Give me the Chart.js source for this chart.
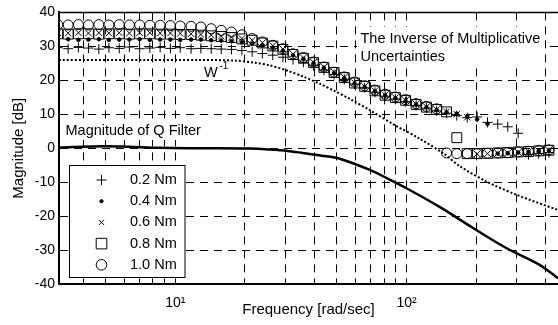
<!DOCTYPE html>
<html>
<head>
<meta charset="utf-8">
<script src="https://cdn.jsdelivr.net/npm/chart.js@4.4.1/dist/chart.umd.min.js"></script>
<style>
  html, body { margin: 0; padding: 0; background: #fff; }
  canvas { display: block; }
</style>
</head>
<body>
<canvas id="bode" width="558" height="325"></canvas>
<script>
// measured frequencies [rad/sec]
var freq = [3.10, 3.44, 3.81, 4.21, 4.67, 5.16, 5.72, 6.33, 7.01, 7.76,
  8.60, 9.52, 10.5, 11.7, 12.9, 14.3, 15.8, 17.5, 19.4, 21.5,
  23.8, 26.4, 29.2, 32.3, 35.8, 39.6, 43.9, 48.6, 53.8, 59.6,
  65.9, 73.0, 80.8, 89.5, 99.1, 110, 122, 135, 149, 165,
  183, 202, 224, 248, 274, 304, 337, 373, 413];

// inverse multiplicative uncertainty [dB] per load torque
var nm02 = [29.6, 29.3, 29.7, 29.5, 29.2, 29.6, 29.4, 29.8, 29.3, 29.5,
  29.7, 29.4, 29.6, 29.3, 29.4, 29.3, 29.2, 29.1, 28.8, 28.4,
  27.9, 27.4, 26.8, 26.1, 25.3, 24.3, 23.0, 21.7, 20.3, 18.9,
  17.8, 16.5, 15.3, 14.5, 13.7, 12.6, 11.8, 11.0, 10.3, 9.6,
  9.0, 9.2, 7.6, 7.1, 6.3, 4.4, -1.9, -1.6, -1.3];
var nm04 = [32.0, 32.1, 31.9, 32.0, 32.1, 31.9, 32.0, 32.0, 32.1, 31.9,
  32.0, 32.0, 31.9, 32.0, 32.0, 31.8, 31.7, 31.5, 31.2, 30.8,
  30.3, 29.6, 28.7, 27.4, 26.3, 25.0, 23.6, 22.1, 20.6, 19.0,
  18.0, 16.7, 15.5, 14.7, 13.9, 12.8, 12.0, 11.2, 10.5, 10.1,
  9.3, 8.5, 7.2, -1.6, -1.5, -1.3, -1.1, -0.9, -0.7];
var nm06 = [34.0, 33.9, 34.0, 33.9, 34.0, 33.9, 34.0, 33.9, 34.0, 34.0,
  33.9, 33.9, 33.8, 33.7, 33.5, 33.3, 33.0, 32.7, 32.3, 31.8,
  31.1, 30.2, 29.2, 27.7, 26.6, 25.3, 23.9, 22.4, 20.9, 19.3,
  18.2, 16.9, 15.7, 14.9, 14.1, 13.0, 12.2, 11.4, 10.7, 10.0,
  9.1, -1.7, -1.6, -1.5, -1.4, -1.2, -1.0, -0.8, -0.6];
var nm08 = [33.7, 33.6, 33.7, 33.7, 33.6, 33.7, 33.7, 33.6, 33.7, 33.7,
  33.6, 33.6, 33.5, 33.5, 33.3, 33.1, 32.9, 32.6, 32.2, 31.8,
  31.0, 30.1, 29.1, 27.6, 26.5, 25.2, 23.8, 22.3, 20.8, 19.2,
  18.2, 16.9, 15.6, 14.9, 14.1, 12.9, 12.1, 11.4, 10.7, 3.1,
  -1.6, -1.6, -1.5, -1.4, -1.3, -1.1, -1.0, -0.8, -0.6];
var nm10 = [36.4, 36.3, 36.4, 36.3, 36.4, 36.3, 36.4, 36.3, 36.3, 36.2,
  36.2, 36.1, 36.0, 35.9, 35.7, 35.2, 34.7, 34.2, 33.4, 32.3,
  31.3, 30.3, 29.3, 27.8, 26.7, 25.4, 23.9, 22.4, 21.0, 19.5,
  18.4, 17.1, 15.9, 15.1, 14.3, 13.1, 12.3, 11.6, -1.4, -1.6,
  -1.6, -1.6, -1.5, -1.4, -1.3, -1.1, -0.9, -0.7, -0.5];

// W^-1 weighting curve
var wFreq = [3.14, 7.74, 12.7, 18.1, 22.0, 25.6, 30.6, 36.0, 42.1, 49.0,
  56.9, 69.4, 89.0, 114, 144, 170, 223, 301, 452];
var wMag = [26, 26, 26, 25.8, 25.2, 24.4, 22.8, 21.0, 19.0, 16.8,
  14.5, 11.2, 6.8, 2.8, -1.5, -5.3, -9.9, -13.8, -18.2];

// Q filter magnitude
var qFreq = [3.14, 4.94, 6.34, 8.55, 12.7, 21.0, 25.6, 30.6, 35.5, 42.9,
  51.4, 69.4, 84.8, 100, 139, 194, 270, 375, 452];
var qMag = [0.2, 0.6, 0.4, 0.1, 0, -0.1, -0.4, -0.8, -1.4, -2.2,
  -3.1, -6.4, -9.3, -11.8, -17.3, -23.5, -29.4, -34.3, -38.3];

var xGrid = [4, 5, 6, 7, 8, 9, 10, 20, 30, 40, 50, 60, 70, 80, 90, 100, 200, 300, 400];
var FONT = "'Liberation Sans', Arial, Helvetica, sans-serif";

function pts(xs, ys) {
  return xs.map(function(x, i) { return { x: x, y: ys[i] }; });
}

function marker(label, ys, style, r, lr, fill) {
  return {
    label: label, data: pts(freq, ys), showLine: false,
    pointStyle: style, pointRadius: r, legendRadius: lr,
    pointBorderColor: '#000', pointBorderWidth: 1,
    pointBackgroundColor: fill ? '#000' : 'rgba(0,0,0,0)',
    inLegend: true
  };
}

function drawMark(ctx, style, r, x, y, fill) {
  ctx.save();
  ctx.strokeStyle = '#000';
  ctx.fillStyle = '#000';
  ctx.lineWidth = 1;
  ctx.beginPath();
  if (style === 'cross') {
    ctx.moveTo(x - r, y); ctx.lineTo(x + r, y);
    ctx.moveTo(x, y - r); ctx.lineTo(x, y + r);
    ctx.stroke();
  } else if (style === 'crossRot') {
    var d = r * Math.SQRT1_2;
    ctx.moveTo(x - d, y - d); ctx.lineTo(x + d, y + d);
    ctx.moveTo(x - d, y + d); ctx.lineTo(x + d, y - d);
    ctx.stroke();
  } else if (style === 'rect') {
    var s = r * Math.SQRT1_2;
    ctx.rect(x - s, y - s, 2 * s, 2 * s);
    ctx.stroke();
  } else {
    ctx.arc(x, y, r, 0, Math.PI * 2);
    if (fill) ctx.fill();
    ctx.stroke();
  }
  ctx.restore();
}

var overlay = {
  id: 'overlay',
  afterDatasetsDraw: function(chart) {
    var ctx = chart.ctx, a = chart.chartArea;
    ctx.save();
    // labels on white patches
    ctx.fillStyle = '#fff';
    ctx.fillRect(357, 27, 188, 40);
    ctx.fillRect(62, 122, 146, 18);
    ctx.fillStyle = '#000';
    ctx.font = '14.5px ' + FONT;
    ctx.textAlign = 'left';
    ctx.textBaseline = 'middle';
    ctx.fillText('The Inverse of Multiplicative', 360.5, 39);
    ctx.fillText('Uncertainties', 360.5, 57);
    ctx.fillText('Magnitude of Q Filter', 65.5, 131);
    ctx.fillText('W', 204, 73);
    ctx.font = '10px ' + FONT;
    ctx.fillText('-1', 219.5, 66);

    // legend box
    var bx = 69.5, by = 165.5, bw = 115.5, bh = 112;
    ctx.fillStyle = '#fff';
    ctx.fillRect(bx, by, bw, bh);
    ctx.strokeStyle = '#000';
    ctx.lineWidth = 1;
    ctx.strokeRect(bx, by, bw, bh);
    var items = chart.data.datasets.filter(function(d) { return d.inLegend; });
    ctx.font = '14.5px ' + FONT;
    items.forEach(function(d, i) {
      var cy = 180 + i * 21.2;
      drawMark(ctx, d.pointStyle, d.legendRadius, 101.5, cy, d.pointBackgroundColor === '#000');
      ctx.fillStyle = '#000';
      ctx.fillText(d.label, 130, cy);
    });

    // top frame line
    ctx.strokeStyle = '#000';
    ctx.lineWidth = 1.5;
    ctx.beginPath();
    ctx.moveTo(a.left, a.top);
    ctx.lineTo(a.right, a.top);
    ctx.stroke();
    ctx.restore();
  }
};

new Chart(document.getElementById('bode').getContext('2d'), {
  type: 'scatter',
  data: {
    datasets: [
      {
        label: 'Q', data: pts(qFreq, qMag), showLine: true,
        borderColor: '#000', borderWidth: 2.5, pointRadius: 0, tension: 0.3
      },
      {
        label: 'W-1', data: pts(wFreq, wMag), showLine: true,
        borderColor: '#000', borderWidth: 2, borderDash: [2, 2],
        pointRadius: 0, tension: 0.3
      },
      marker('0.2 Nm', nm02, 'cross', 5, 5, false),
      marker('0.4 Nm', nm04, 'circle', 1.8, 1.6, true),
      marker('0.6 Nm', nm06, 'crossRot', 4.5, 3.6, false),
      marker('0.8 Nm', nm08, 'rect', 7, 7.5, false),
      marker('1.0 Nm', nm10, 'circle', 5, 5.3, false)
    ]
  },
  options: {
    responsive: false,
    animation: false,
    events: [],
    devicePixelRatio: 1,
    layout: { autoPadding: false, padding: { top: 12, right: 0, left: 0, bottom: 0 } },
    plugins: {
      legend: { display: false },
      tooltip: { enabled: false }
    },
    scales: {
      x: {
        type: 'logarithmic', min: 3.14, max: 452, bounds: 'data',
        afterBuildTicks: function(s) { s.ticks = xGrid.map(function(v) { return { value: v }; }); },
        afterFit: function(s) { s.height = 41; s.paddingLeft = 0; s.paddingRight = 0; },
        ticks: {
          autoSkip: false, maxRotation: 0, padding: 11, color: '#000',
          font: { size: 14, family: FONT },
          callback: function(v) { return v === 10 ? '10\u00b9' : (v === 100 ? '10\u00b2' : ''); }
        },
        grid: { color: '#000', lineWidth: 1, drawTicks: false },
        border: { color: '#000', width: 2, dash: [8, 6] },
        title: {
          display: true, text: 'Frequency [rad/sec]', color: '#000',
          font: { size: 15, family: FONT }, padding: { top: 0, bottom: 6 }
        }
      },
      y: {
        type: 'linear', min: -40, max: 40,
        afterFit: function(s) { s.width = 59; },
        ticks: { stepSize: 10, padding: 4, color: '#000', font: { size: 14, family: FONT } },
        grid: { color: '#000', lineWidth: 1, drawTicks: false },
        border: { color: '#000', width: 2, dash: [8, 6] },
        title: {
          display: true, text: 'Magnitude [dB]', color: '#000',
          font: { size: 15, family: FONT }, padding: { top: 10, bottom: 0 }
        }
      }
    }
  },
  plugins: [overlay]
});
</script>
</body>
</html>
